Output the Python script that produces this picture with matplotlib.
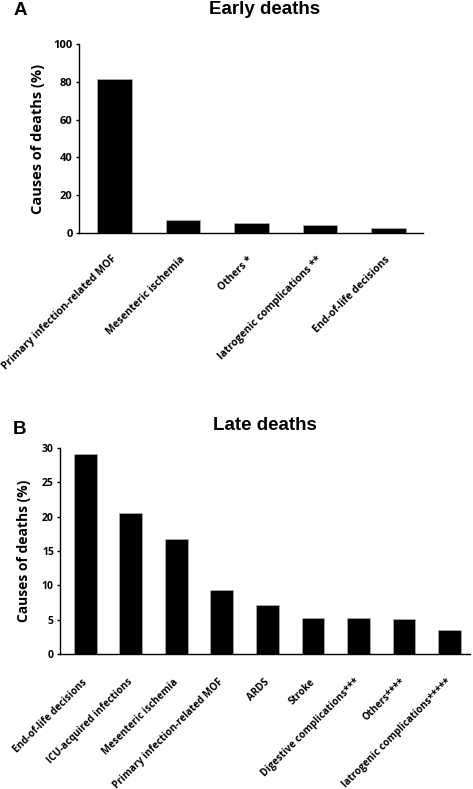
import matplotlib
matplotlib.use('Agg')
import matplotlib.pyplot as plt

early_causes = ['Primary infection-related MOF', 'Mesenteric ischemia', 'Others *',
                'Iatrogenic complications **', 'End-of-life decisions']
early_values = [81.5, 6.5, 5.3, 3.9, 2.5]

late_causes = ['End-of-life decisions', 'ICU-acquired infections', 'Mesenteric ischemia',
               'Primary infection-related MOF', 'ARDS', 'Stroke',
               'Digestive complications***', 'Others****', 'Iatrogenic complications*****']
late_values = [29.1, 20.5, 16.8, 9.4, 7.2, 5.2, 5.2, 5.1, 3.5]

early_ticks = [0, 20, 40, 60, 80, 100]
late_ticks = [0, 5, 10, 15, 20, 25, 30]

lab_font = ['Open Sans', 'DejaVu Sans']
title_font = ['Liberation Sans', 'DejaVu Sans']

fig = plt.figure(figsize=(4.73, 7.89), dpi=100)
ax1 = fig.add_axes([0.167, 0.705, 0.727, 0.239])
ax2 = fig.add_axes([0.127, 0.171, 0.867, 0.261])


def style(ax, causes, values, ticks, fs_x, fs_y, pad_x):
    x = range(len(causes))
    ax.bar(x, values, width=0.5, color='black', edgecolor='#bbbbbb', linewidth=0.4)
    ax.spines['top'].set_visible(False)
    ax.spines['right'].set_visible(False)
    ax.spines['left'].set_linewidth(1.0)
    ax.spines['bottom'].set_linewidth(1.0)
    ax.set_ylim(0, ticks[-1])
    ax.set_yticks(ticks)
    ax.set_yticklabels([str(t) for t in ticks], family=lab_font, fontweight='bold', fontsize=fs_y)
    ax.tick_params(axis='y', direction='out', length=2.5, width=1, pad=2)
    ax.tick_params(axis='x', length=0, pad=pad_x)
    ax.set_xticks(list(x))
    ax.set_xticklabels(causes, rotation=45, ha='right', va='center', rotation_mode='anchor',
                       family=lab_font, fontweight='bold', fontsize=fs_x)


style(ax1, early_causes, early_values, early_ticks, 7.5, 8.0, 18)
ax1.set_xlim(-0.52, 4.5)
ax1.set_ylabel('Causes of deaths (%)', family=lab_font, fontweight='bold', fontsize=10.5, labelpad=6)

style(ax2, late_causes, late_values, late_ticks, 7.1, 7.5, 19)
ax2.set_xlim(-0.55, 8.45)
ax2.set_ylabel('Causes of deaths (%)', family=lab_font, fontweight='bold', fontsize=10, labelpad=8)

fig.text(0.56, 0.999, 'Early deaths', ha='center', va='top', family=title_font,
         fontweight='bold', fontsize=13.5)
fig.text(0.042, 0.998, 'A', ha='center', va='top', family=title_font, fontweight='bold', fontsize=13.5)
fig.text(0.56, 0.472, 'Late deaths', ha='center', va='top', family=title_font,
         fontweight='bold', fontsize=13.5)
fig.text(0.042, 0.466, 'B', ha='center', va='top', family=title_font, fontweight='bold', fontsize=13.5)

fig.savefig('out.png', dpi=100)
